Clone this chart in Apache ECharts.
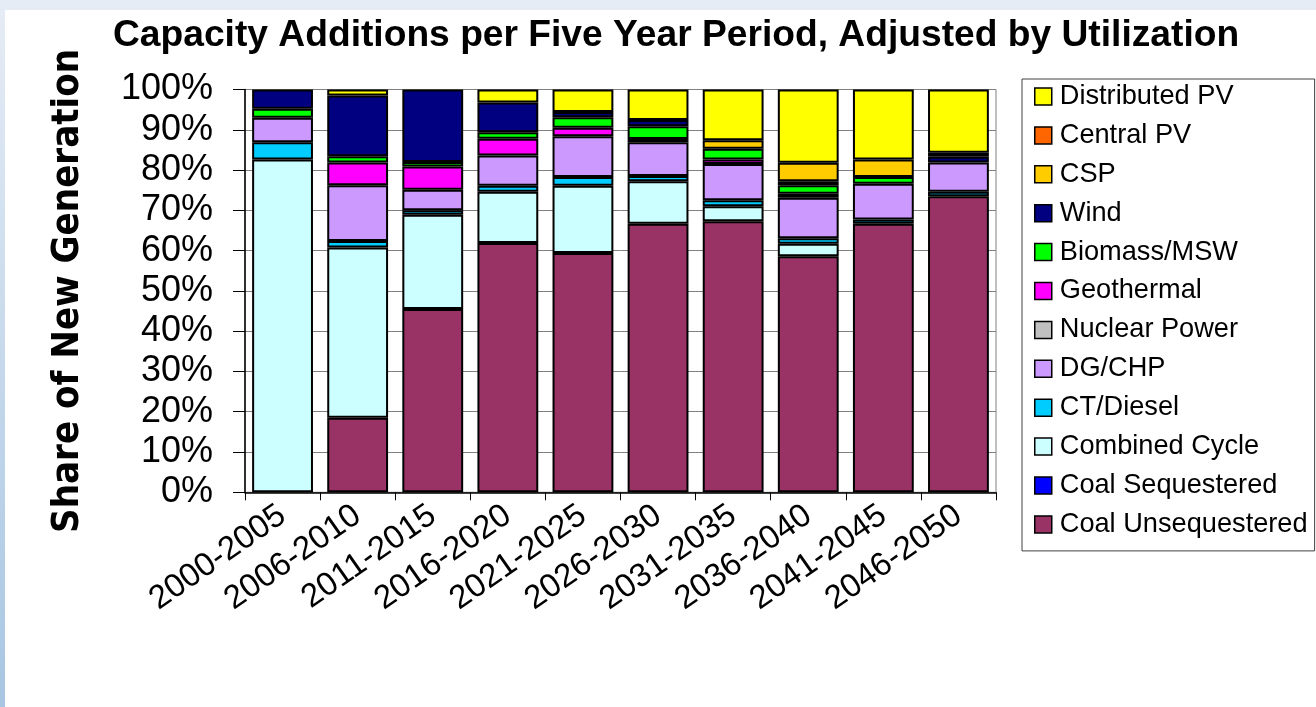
<!DOCTYPE html>
<html>
<head>
<meta charset="utf-8">
<script src="https://cdn.jsdelivr.net/npm/echarts@6/dist/echarts.min.js"></script>
<style>
  html, body { margin: 0; padding: 0; width: 1316px; height: 707px; overflow: hidden; }
  body { background: linear-gradient(to bottom, #E6ECF5, #A8C6E2); position: relative; }
  #panel { position: absolute; left: 5px; top: 10px; right: 0; bottom: 0; background: #ffffff; }
  #chart { position: absolute; left: 0; top: 0; width: 1316px; height: 707px; }
</style>
</head>
<body>
<div id="panel"></div>
<div id="chart"></div>
<script>
// Five-year periods on the category axis
const periods = ['2000-2005', '2006-2010', '2011-2015', '2016-2020', '2021-2025',
                 '2026-2030', '2031-2035', '2036-2040', '2041-2045', '2046-2050'];

// Share of new generation (%) by technology, stacked bottom to top
const coalUnsequestered = [0, 18.5, 45.5, 61.9, 59.4, 66.7, 67.3, 58.6, 66.7, 73.5];
const coalSequestered   = [0, 0, 0, 0, 0, 0, 0, 0, 0, 0];
const combinedCycle     = [82.6, 42.3, 23.4, 12.7, 16.7, 10.5, 3.7, 3.1, 0, 0];
const ctDiesel          = [4.3, 1.6, 1.1, 1.5, 2.2, 1.3, 1.5, 1.4, 1.0, 1.1];
const dgChp             = [6.1, 13.8, 5.1, 7.5, 10.1, 8.4, 9.0, 10.0, 8.9, 7.3];
const nuclearPower      = [0, 0, 0, 0, 0, 0, 0, 0, 0, 0];
const geothermal        = [0, 5.7, 5.8, 4.2, 2.1, 0.8, 1.1, 1.0, 0, 0];
const biomassMsw        = [2.2, 1.5, 1.1, 1.6, 2.6, 3.2, 2.7, 2.1, 1.7, 0];
const wind              = [4.8, 15.1, 18.0, 7.4, 1.3, 1.5, 0, 1.0, 0, 1.4];
const csp               = [0, 0, 0, 0, 0, 0, 2.1, 4.6, 4.3, 1.0];
const centralPv         = [0, 0, 0, 0, 0, 0, 0, 0, 0, 0];
const distributedPv     = [0, 1.5, 0, 3.2, 5.6, 7.6, 12.6, 18.2, 17.4, 15.7];

const yTicks = [0, 10, 20, 30, 40, 50, 60, 70, 80, 90, 100];

const stackOrder = [
  { name: 'Coal Unsequestered', data: coalUnsequestered, color: '#993366' },
  { name: 'Coal Sequestered',   data: coalSequestered,   color: '#0000FF' },
  { name: 'Combined Cycle',     data: combinedCycle,     color: '#CCFFFF' },
  { name: 'CT/Diesel',          data: ctDiesel,          color: '#00CCFF' },
  { name: 'DG/CHP',             data: dgChp,             color: '#CC99FF' },
  { name: 'Nuclear Power',      data: nuclearPower,      color: '#C0C0C0' },
  { name: 'Geothermal',         data: geothermal,        color: '#FF00FF' },
  { name: 'Biomass/MSW',        data: biomassMsw,        color: '#00FF00' },
  { name: 'Wind',               data: wind,              color: '#000080' },
  { name: 'CSP',                data: csp,               color: '#FFCC00' },
  { name: 'Central PV',         data: centralPv,         color: '#FF6600' },
  { name: 'Distributed PV',     data: distributedPv,     color: '#FFFF00' }
];

const FONT = "'Liberation Sans', Arial, sans-serif";

const chart = echarts.init(document.getElementById('chart'), null, { renderer: 'canvas' });

const series = stackOrder.map(s => ({
  name: s.name,
  type: 'bar',
  stack: 'share',
  barWidth: '81%',
  // empty segments are left out so they do not leave a border line
  data: s.data.map(v => (v === 0 ? null : v)),
  itemStyle: { color: s.color, borderColor: '#000000', borderWidth: 2 },
  emphasis: { disabled: true }
}));

chart.setOption({
  animation: false,
  backgroundColor: 'transparent',
  title: {
    text: 'Capacity Additions per Five Year Period, Adjusted by Utilization',
    left: 108,
    top: 12,
    textStyle: { fontFamily: FONT, fontSize: 37.2, fontWeight: 'bold', color: '#000' }
  },
  legend: {
    orient: 'vertical',
    left: 1022,
    top: 79,
    data: stackOrder.map(s => s.name).reverse(),
    icon: 'rect',
    itemWidth: 17,
    itemHeight: 17,
    itemGap: 11.9,
    padding: [4, 7, 13, 12],
    borderColor: '#404040',
    borderWidth: 1,
    backgroundColor: '#ffffff',
    selectedMode: false,
    itemStyle: { borderWidth: 1.5 },
    textStyle: { fontFamily: FONT, fontSize: 27.2, color: '#000', padding: [0, 0, 0, 3] }
  },
  grid: {
    left: 245,
    top: 89.5,
    width: 751,
    height: 402.8,
    show: true,
    borderColor: '#808080',
    borderWidth: 1,
    backgroundColor: 'transparent'
  },
  xAxis: {
    type: 'category',
    data: periods,
    axisLine: { lineStyle: { color: '#000', width: 1.5 } },
    axisTick: { show: true, alignWithLabel: false, length: 8, lineStyle: { color: '#000' } },
    axisLabel: {
      rotate: 35,
      margin: 20,
      interval: 0,
      fontFamily: FONT,
      fontSize: 33,
      color: '#000'
    }
  },
  yAxis: {
    type: 'value',
    min: yTicks[0],
    max: yTicks[yTicks.length - 1],
    interval: 10,
    name: 'Share of New Generation',
    nameLocation: 'middle',
    nameRotate: 90,
    nameGap: 158,
    nameTextStyle: {
      fontFamily: "'Liberation Sans Narrow', 'Arial Narrow', 'DejaVu Sans Condensed', sans-serif",
      fontSize: 38,
      fontWeight: 'bold',
      color: '#000'
    },
    axisLine: { show: true, lineStyle: { color: '#000', width: 1.5 } },
    axisTick: { show: true, length: 12, lineStyle: { color: '#000' } },
    splitLine: { show: true, lineStyle: { color: '#808080', width: 1 } },
    axisLabel: {
      formatter: '{value}%',
      margin: 32,
      fontFamily: FONT,
      fontSize: 36,
      color: '#000'
    }
  },
  series: series
});
</script>
</body>
</html>
